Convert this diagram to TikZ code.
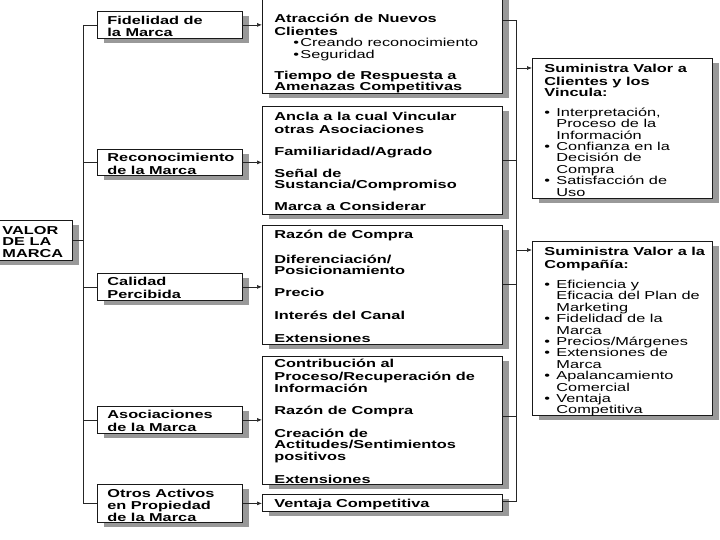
\documentclass[tikz,border=0pt]{standalone}
\usepackage{fontspec}
\setmainfont{Liberation Sans}[FakeStretch=1.42]
\usetikzlibrary{arrows.meta,shadows}
\newcommand\bxt[5]{\parbox[t][#1][t]{#2}{\raggedright\leftskip=#3\relax\vspace*{#4}\strut #5}}
\newcommand\bul{\makebox[12pt][l]{\textbullet}}
\newcommand\ind{\hspace*{12pt}}
\tikzset{
  panel/.style={draw=black!90, line width=0.8pt, fill=white, inner sep=0pt,
    anchor=north west, font=\fontsize{11.5}{11.4}\selectfont,
    drop shadow={shadow xshift=7pt, shadow yshift=-5pt, fill=black!40, draw=none, opacity=1}},
  conn/.style={draw=black!85, line width=0.7pt},
  arr/.style={conn, -{Latex[length=5pt,width=4pt]}},
}
\begin{document}
\begin{tikzpicture}[x=1pt,y=-1pt]
\useasboundingbox (0,0) rectangle (720,540);
\fill[white] (0,0) rectangle (720,540);
\clip (0,0) rectangle (720,540);

% root
\node[panel] (valor) at (-10,220) {\bxt{40pt}{82pt}{12pt}{6pt}{\bfseries VALOR\\ DE LA\\ MARCA}};

% left column
\node[panel] (l1) at (97,11)  {\bxt{27pt}{145pt}{10pt}{4.5pt}{\bfseries Fidelidad de\\ la Marca}};
\node[panel] (l2) at (97,149) {\bxt{26pt}{145pt}{10pt}{4pt}{\bfseries Reconocimiento\\ de la Marca}};
\node[panel] (l3) at (97,273) {\bxt{27pt}{145pt}{10pt}{4pt}{\bfseries Calidad\\ Percibida}};
\node[panel] (l4) at (97,406) {\bxt{27pt}{145pt}{10pt}{4pt}{\bfseries Asociaciones\\ de la Marca}};
\node[panel] (l5) at (97,484) {\bxt{38pt}{145pt}{10pt}{4.5pt}{\bfseries Otros Activos\\ en Propiedad\\ de la Marca}};

% middle column
\node[panel] (m1) at (262,-8) {\bxt{101pt}{240pt}{12pt}{22pt}{\bfseries
  Atracción de Nuevos\\ Clientes\\
  \mdseries\hspace*{19pt}\makebox[7pt][l]{\textbullet}Creando reconocimiento\\
  \hspace*{19pt}\makebox[7pt][l]{\textbullet}Seguridad\\[9.5pt]
  \bfseries Tiempo de Respuesta a\\ Amenazas Competitivas}};
\node[panel] (m2) at (262,106) {\bxt{108pt}{240pt}{12pt}{6pt}{\bfseries
  Ancla a la cual Vincular\\ otras Asociaciones\\[10.5pt]
  Familiaridad/Agrado\\[10.5pt]
  Señal de\\ Sustancia/Compromiso\\[10pt]
  Marca a Considerar}};
\node[panel] (m3) at (262,225) {\bxt{119pt}{240pt}{12pt}{5pt}{\bfseries
  Razón de Compra\\[11.5pt]
  Diferenciación/\\ Posicionamiento\\[10.5pt]
  Precio\\[12pt]
  Interés del Canal\\[11pt]
  Extensiones}};
\node[panel] (m4) at (262,356) {\bxt{128pt}{240pt}{12pt}{3pt}{\bfseries
  Contribución al\\ Proceso/Recuperación de\\ Información\\[11.5pt]
  Razón de Compra\\[11pt]
  Creación de\\ Actitudes/Sentimientos\\ positivos\\[11.5pt]
  Extensiones}};
\node[panel] (m5) at (262,494) {\bxt{17pt}{240pt}{12pt}{5pt}{\bfseries Ventaja Competitiva}};

% right column
\node[panel] (r1) at (532,58) {\bxt{140pt}{180pt}{12pt}{6pt}{\bfseries
  Suministra Valor a\\ Clientes y los\\ Vincula:\\[8pt]
  \mdseries\bul Interpretación,\\ \ind Proceso de la\\ \ind Información\\
  \bul Confianza en la\\ \ind Decisión de\\ \ind Compra\\
  \bul Satisfacción de\\ \ind Uso}};
\node[panel] (r2) at (532,241) {\bxt{174pt}{180pt}{12pt}{6pt}{\bfseries
  Suministra Valor a la\\ Compañía:\\[8.5pt]
  \mdseries\bul Eficiencia y\\ \ind Eficacia del Plan de\\ \ind Marketing\\
  \bul Fidelidad de la\\ \ind Marca\\
  \bul Precios/Márgenes\\
  \bul Extensiones de\\ \ind Marca\\
  \bul Apalancamiento\\ \ind Comercial\\
  \bul Ventaja\\ \ind Competitiva}};

% left trunk
\coordinate (tk) at (83,0);
\draw[conn] (l1.west -| tk) -- (l5.west -| tk);
\foreach \n in {l1,l2,l3,l4,l5} \draw[conn] (\n.west -| tk) -- (\n.west);
\draw[conn] (valor.east) -- (valor.east -| tk);

% left -> middle
\draw[arr] (l1.east) -- (l1.east -| m1.west);
\draw[arr] (l2.east) -- (l2.east -| m2.west);
\draw[arr] (l3.east) -- (l3.east -| m3.west);
\draw[arr] (l4.east) -- (l4.east -| m4.west);
\draw[arr] (l5.east) -- (l5.east -| m5.west);

% right collector
\coordinate (ra) at (516,20);
\coordinate (rb) at (516,160);
\coordinate (rc) at (516,284);
\coordinate (rd) at (516,416);
\coordinate (re) at (516,501);
\draw[conn] (m1.east |- ra) -- (ra) -- (re) -- (m5.east |- re);
\draw[conn] (m2.east |- rb) -- (rb);
\draw[conn] (m3.east |- rc) -- (rc);
\draw[conn] (m4.east |- rd) -- (rd);

% collector -> right boxes
\coordinate (q1) at (516,68);
\coordinate (q2) at (516,250);
\draw[arr] (q1) -- (q1 -| r1.west);
\draw[arr] (q2) -- (q2 -| r2.west);
\end{tikzpicture}
\end{document}
